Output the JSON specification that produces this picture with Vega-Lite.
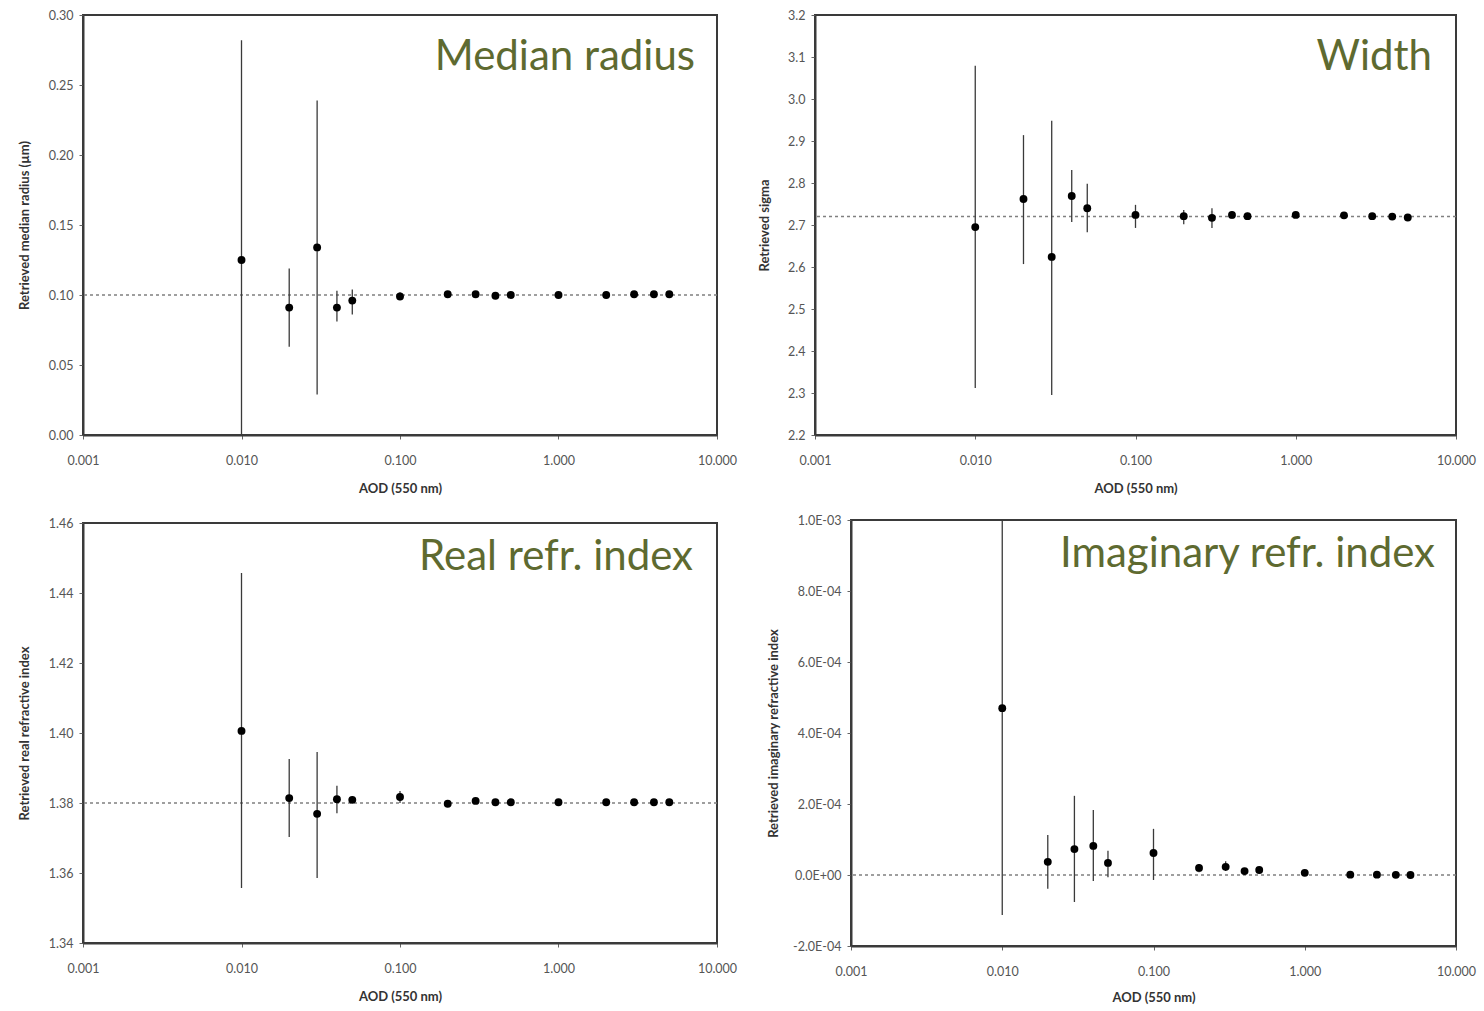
{
  "$schema": "https://vega.github.io/schema/vega-lite/v6.json",
  "background": "white",
  "padding": {"left": 17, "top": 8, "right": 10, "bottom": 5},
  "datasets": {
    "radius": [
      {"aod": 0.01, "v": 0.125, "lo": 0.0, "hi": 0.282},
      {"aod": 0.02, "v": 0.091, "lo": 0.063, "hi": 0.119},
      {"aod": 0.03, "v": 0.134, "lo": 0.029, "hi": 0.239},
      {"aod": 0.04, "v": 0.091, "lo": 0.081, "hi": 0.103},
      {"aod": 0.05, "v": 0.096, "lo": 0.086, "hi": 0.104},
      {"aod": 0.1, "v": 0.099, "lo": 0.096, "hi": 0.102},
      {"aod": 0.2, "v": 0.1005, "lo": 0.099, "hi": 0.102},
      {"aod": 0.3, "v": 0.1005, "lo": 0.099, "hi": 0.102},
      {"aod": 0.4, "v": 0.0995, "lo": 0.099, "hi": 0.1},
      {"aod": 0.5, "v": 0.1, "lo": 0.099, "hi": 0.101},
      {"aod": 1, "v": 0.1, "lo": 0.099, "hi": 0.101},
      {"aod": 2, "v": 0.1, "lo": 0.0995, "hi": 0.1005},
      {"aod": 3, "v": 0.1005, "lo": 0.1, "hi": 0.101},
      {"aod": 4, "v": 0.1005, "lo": 0.1, "hi": 0.101},
      {"aod": 5, "v": 0.1005, "lo": 0.1, "hi": 0.101}
    ],
    "sigma": [
      {"aod": 0.01, "v": 2.695, "lo": 2.312, "hi": 3.079},
      {"aod": 0.02, "v": 2.762, "lo": 2.607, "hi": 2.914},
      {"aod": 0.03, "v": 2.624, "lo": 2.295, "hi": 2.948},
      {"aod": 0.04, "v": 2.769, "lo": 2.707, "hi": 2.831},
      {"aod": 0.05, "v": 2.74, "lo": 2.683, "hi": 2.798},
      {"aod": 0.1, "v": 2.724, "lo": 2.693, "hi": 2.748},
      {"aod": 0.2, "v": 2.721, "lo": 2.702, "hi": 2.736},
      {"aod": 0.3, "v": 2.717, "lo": 2.693, "hi": 2.74},
      {"aod": 0.4, "v": 2.724, "lo": 2.715, "hi": 2.733},
      {"aod": 0.5, "v": 2.721, "lo": 2.713, "hi": 2.729},
      {"aod": 1, "v": 2.724, "lo": 2.718, "hi": 2.73},
      {"aod": 2, "v": 2.723, "lo": 2.718, "hi": 2.728},
      {"aod": 3, "v": 2.721, "lo": 2.717, "hi": 2.725},
      {"aod": 4, "v": 2.72, "lo": 2.716, "hi": 2.724},
      {"aod": 5, "v": 2.718, "lo": 2.714, "hi": 2.722}
    ],
    "real": [
      {"aod": 0.01, "v": 1.4006, "lo": 1.3557, "hi": 1.4457},
      {"aod": 0.02, "v": 1.3814, "lo": 1.3703, "hi": 1.3926},
      {"aod": 0.03, "v": 1.3769, "lo": 1.3586, "hi": 1.3946},
      {"aod": 0.04, "v": 1.3811, "lo": 1.3771, "hi": 1.3849},
      {"aod": 0.05, "v": 1.3809, "lo": 1.38, "hi": 1.3818},
      {"aod": 0.1, "v": 1.3817, "lo": 1.38, "hi": 1.3834},
      {"aod": 0.2, "v": 1.3798, "lo": 1.379, "hi": 1.3806},
      {"aod": 0.3, "v": 1.3806, "lo": 1.38, "hi": 1.3812},
      {"aod": 0.4, "v": 1.3802, "lo": 1.3797, "hi": 1.3807},
      {"aod": 0.5, "v": 1.3802, "lo": 1.3797, "hi": 1.3807},
      {"aod": 1, "v": 1.3802, "lo": 1.3798, "hi": 1.3806},
      {"aod": 2, "v": 1.3802, "lo": 1.3798, "hi": 1.3806},
      {"aod": 3, "v": 1.3802, "lo": 1.3798, "hi": 1.3806},
      {"aod": 4, "v": 1.3802, "lo": 1.3798, "hi": 1.3806},
      {"aod": 5, "v": 1.3802, "lo": 1.3798, "hi": 1.3806}
    ],
    "imag": [
      {"aod": 0.01, "v": 0.00047, "lo": -0.000113, "hi": 0.001},
      {"aod": 0.02, "v": 0.000037, "lo": -0.000039, "hi": 0.000113},
      {"aod": 0.03, "v": 0.000073, "lo": -0.000076, "hi": 0.000223},
      {"aod": 0.04, "v": 0.000082, "lo": -0.000017, "hi": 0.000183},
      {"aod": 0.05, "v": 0.000034, "lo": -0.000006, "hi": 0.000068},
      {"aod": 0.1, "v": 0.000062, "lo": -0.000014, "hi": 0.00013},
      {"aod": 0.2, "v": 0.00002, "lo": 0.000008, "hi": 0.000031},
      {"aod": 0.3, "v": 0.000023, "lo": 0.000011, "hi": 0.000039},
      {"aod": 0.4, "v": 0.000011, "lo": 0.000006, "hi": 0.000016},
      {"aod": 0.5, "v": 0.000014, "lo": 0.000009, "hi": 0.000019},
      {"aod": 1, "v": 0.000006, "lo": 0.000002, "hi": 0.00001},
      {"aod": 2, "v": 0.000001, "lo": 0.0, "hi": 0.000003},
      {"aod": 3, "v": 0.000001, "lo": 0.0, "hi": 0.000002},
      {"aod": 4, "v": 0.0000005, "lo": 0.0, "hi": 0.000001},
      {"aod": 5, "v": 0.0, "lo": 0.0, "hi": 0.000001}
    ]
  },
  "vconcat": [
    {
      "hconcat": [
        {
          "width": 634, "height": 420,
          "title": {"text": "Median radius", "orient": "top", "anchor": "end", "frame": "group", "offset": -103, "dx": -22, "baseline": "alphabetic"},
          "data": {"name": "radius"},
          "layer": [
            {
              "data": {"values": [{}]},
              "mark": {"type": "rule", "color": "#808080", "strokeDash": [3, 3], "strokeWidth": 1.5},
              "encoding": {"y": {"datum": 0.1, "type": "quantitative", "scale": {"domain": [0, 0.3], "nice": false, "zero": false}, "axis": {"values": [0, 0.05, 0.1, 0.15, 0.2, 0.25, 0.3], "format": ".2f", "title": "Retrieved median radius (µm)", "titlePadding": 17}}}
            },
            {
              "mark": {"type": "rule", "color": "#3a3a3a", "strokeWidth": 1.3, "clip": true},
              "encoding": {
                "x": {"field": "aod", "type": "quantitative", "scale": {"type": "log", "domain": [0.001, 10], "nice": false}, "axis": {"values": [0.001, 0.01, 0.1, 1, 10], "format": ".3f", "title": "AOD (550 nm)", "titlePadding": 16, "labelPadding": 15, "labelFlush": false}},
                "y": {"field": "lo", "type": "quantitative"},
                "y2": {"field": "hi"}
              }
            },
            {
              "mark": {"type": "circle", "color": "black", "opacity": 1, "size": 62},
              "encoding": {
                "x": {"field": "aod", "type": "quantitative"},
                "y": {"field": "v", "type": "quantitative"}
              }
            }
          ]
        },
        {
          "width": 641, "height": 420,
          "title": {"text": "Width", "orient": "top", "anchor": "end", "frame": "group", "offset": -103, "dx": -24, "baseline": "alphabetic"},
          "data": {"name": "sigma"},
          "layer": [
            {
              "data": {"values": [{}]},
              "mark": {"type": "rule", "color": "#808080", "strokeDash": [3, 3], "strokeWidth": 1.5},
              "encoding": {"y": {"datum": 2.72, "type": "quantitative", "scale": {"domain": [2.2, 3.2], "nice": false, "zero": false}, "axis": {"values": [2.2, 2.3, 2.4, 2.5, 2.6, 2.7, 2.8, 2.9, 3.0, 3.1, 3.2], "format": ".1f", "title": "Retrieved sigma", "titlePadding": 16}}}
            },
            {
              "mark": {"type": "rule", "color": "#3a3a3a", "strokeWidth": 1.3, "clip": true},
              "encoding": {
                "x": {"field": "aod", "type": "quantitative", "scale": {"type": "log", "domain": [0.001, 10], "nice": false}, "axis": {"values": [0.001, 0.01, 0.1, 1, 10], "format": ".3f", "title": "AOD (550 nm)", "titlePadding": 16, "labelPadding": 15, "labelFlush": false}},
                "y": {"field": "lo", "type": "quantitative"},
                "y2": {"field": "hi"}
              }
            },
            {
              "mark": {"type": "circle", "color": "black", "opacity": 1, "size": 62},
              "encoding": {
                "x": {"field": "aod", "type": "quantitative"},
                "y": {"field": "v", "type": "quantitative"}
              }
            }
          ]
        }
      ],
      "spacing": 98,
      "bounds": "flush"
    },
    {
      "hconcat": [
        {
          "width": 634, "height": 420,
          "title": {"text": "Real refr. index", "orient": "top", "anchor": "end", "frame": "group", "offset": -95, "dx": -24, "baseline": "alphabetic"},
          "data": {"name": "real"},
          "layer": [
            {
              "data": {"values": [{}]},
              "mark": {"type": "rule", "color": "#808080", "strokeDash": [3, 3], "strokeWidth": 1.5},
              "encoding": {"y": {"datum": 1.38, "type": "quantitative", "scale": {"domain": [1.34, 1.46], "nice": false, "zero": false}, "axis": {"values": [1.34, 1.36, 1.38, 1.4, 1.42, 1.44, 1.46], "format": ".2f", "title": "Retrieved real refractive index", "titlePadding": 17}}}
            },
            {
              "mark": {"type": "rule", "color": "#3a3a3a", "strokeWidth": 1.3, "clip": true},
              "encoding": {
                "x": {"field": "aod", "type": "quantitative", "scale": {"type": "log", "domain": [0.001, 10], "nice": false}, "axis": {"values": [0.001, 0.01, 0.1, 1, 10], "format": ".3f", "title": "AOD (550 nm)", "titlePadding": 16, "labelPadding": 15, "labelFlush": false}},
                "y": {"field": "lo", "type": "quantitative"},
                "y2": {"field": "hi"}
              }
            },
            {
              "mark": {"type": "circle", "color": "black", "opacity": 1, "size": 62},
              "encoding": {
                "x": {"field": "aod", "type": "quantitative"},
                "y": {"field": "v", "type": "quantitative"}
              }
            }
          ]
        },
        {
          "width": 605, "height": 426,
          "title": {"text": "Imaginary refr. index", "orient": "top", "anchor": "end", "frame": "group", "offset": -95, "dx": -21, "baseline": "alphabetic"},
          "data": {"name": "imag"},
          "layer": [
            {
              "data": {"values": [{}]},
              "mark": {"type": "rule", "color": "#808080", "strokeDash": [3, 3], "strokeWidth": 1.5},
              "encoding": {"y": {"datum": 0, "type": "quantitative", "scale": {"domain": [-0.0002, 0.001], "nice": false, "zero": false}, "axis": {"values": [-0.0002, 0, 0.0002, 0.0004, 0.0006, 0.0008, 0.001], "labelExpr": "datum.value == 0 ? '0.0E+00' : (datum.value < 0 ? '-' : '') + format(abs(datum.value) / pow(10, floor(log(abs(datum.value)) / LN10 + 1e-9)), '.1f') + 'E-0' + (-floor(log(abs(datum.value)) / LN10 + 1e-9))", "title": "Retrieved imaginary refractive index", "titlePadding": 12}}}
            },
            {
              "mark": {"type": "rule", "color": "#3a3a3a", "strokeWidth": 1.3, "clip": true},
              "encoding": {
                "x": {"field": "aod", "type": "quantitative", "scale": {"type": "log", "domain": [0.001, 10], "nice": false}, "axis": {"values": [0.001, 0.01, 0.1, 1, 10], "format": ".3f", "title": "AOD (550 nm)", "titlePadding": 14, "labelPadding": 15, "labelFlush": false}},
                "y": {"field": "lo", "type": "quantitative"},
                "y2": {"field": "hi"}
              }
            },
            {
              "mark": {"type": "circle", "color": "black", "opacity": 1, "size": 62},
              "encoding": {
                "x": {"field": "aod", "type": "quantitative"},
                "y": {"field": "v", "type": "quantitative"}
              }
            }
          ]
        }
      ],
      "spacing": 134,
      "bounds": "flush",
      "center": true
    }
  ],
  "spacing": 16,
  "config": {
    "font": "Lato",
    "view": {"stroke": "#3a3a3a", "strokeWidth": 2},
    "axis": {
      "grid": false,
      "labelFont": "Lato", "labelFontSize": 12.5, "labelColor": "#555555", "labelPadding": 6,
      "titleFont": "Lato", "titleFontSize": 13, "titleFontWeight": "bold", "titleColor": "#333333",
      "domainColor": "#3a3a3a", "domainWidth": 2,
      "tickColor": "#666666", "tickSize": 4, "tickWidth": 1
    },
    "title": {"font": "Lato", "fontSize": 42, "fontWeight": "normal", "color": "#5e6a30"}
  }
}
